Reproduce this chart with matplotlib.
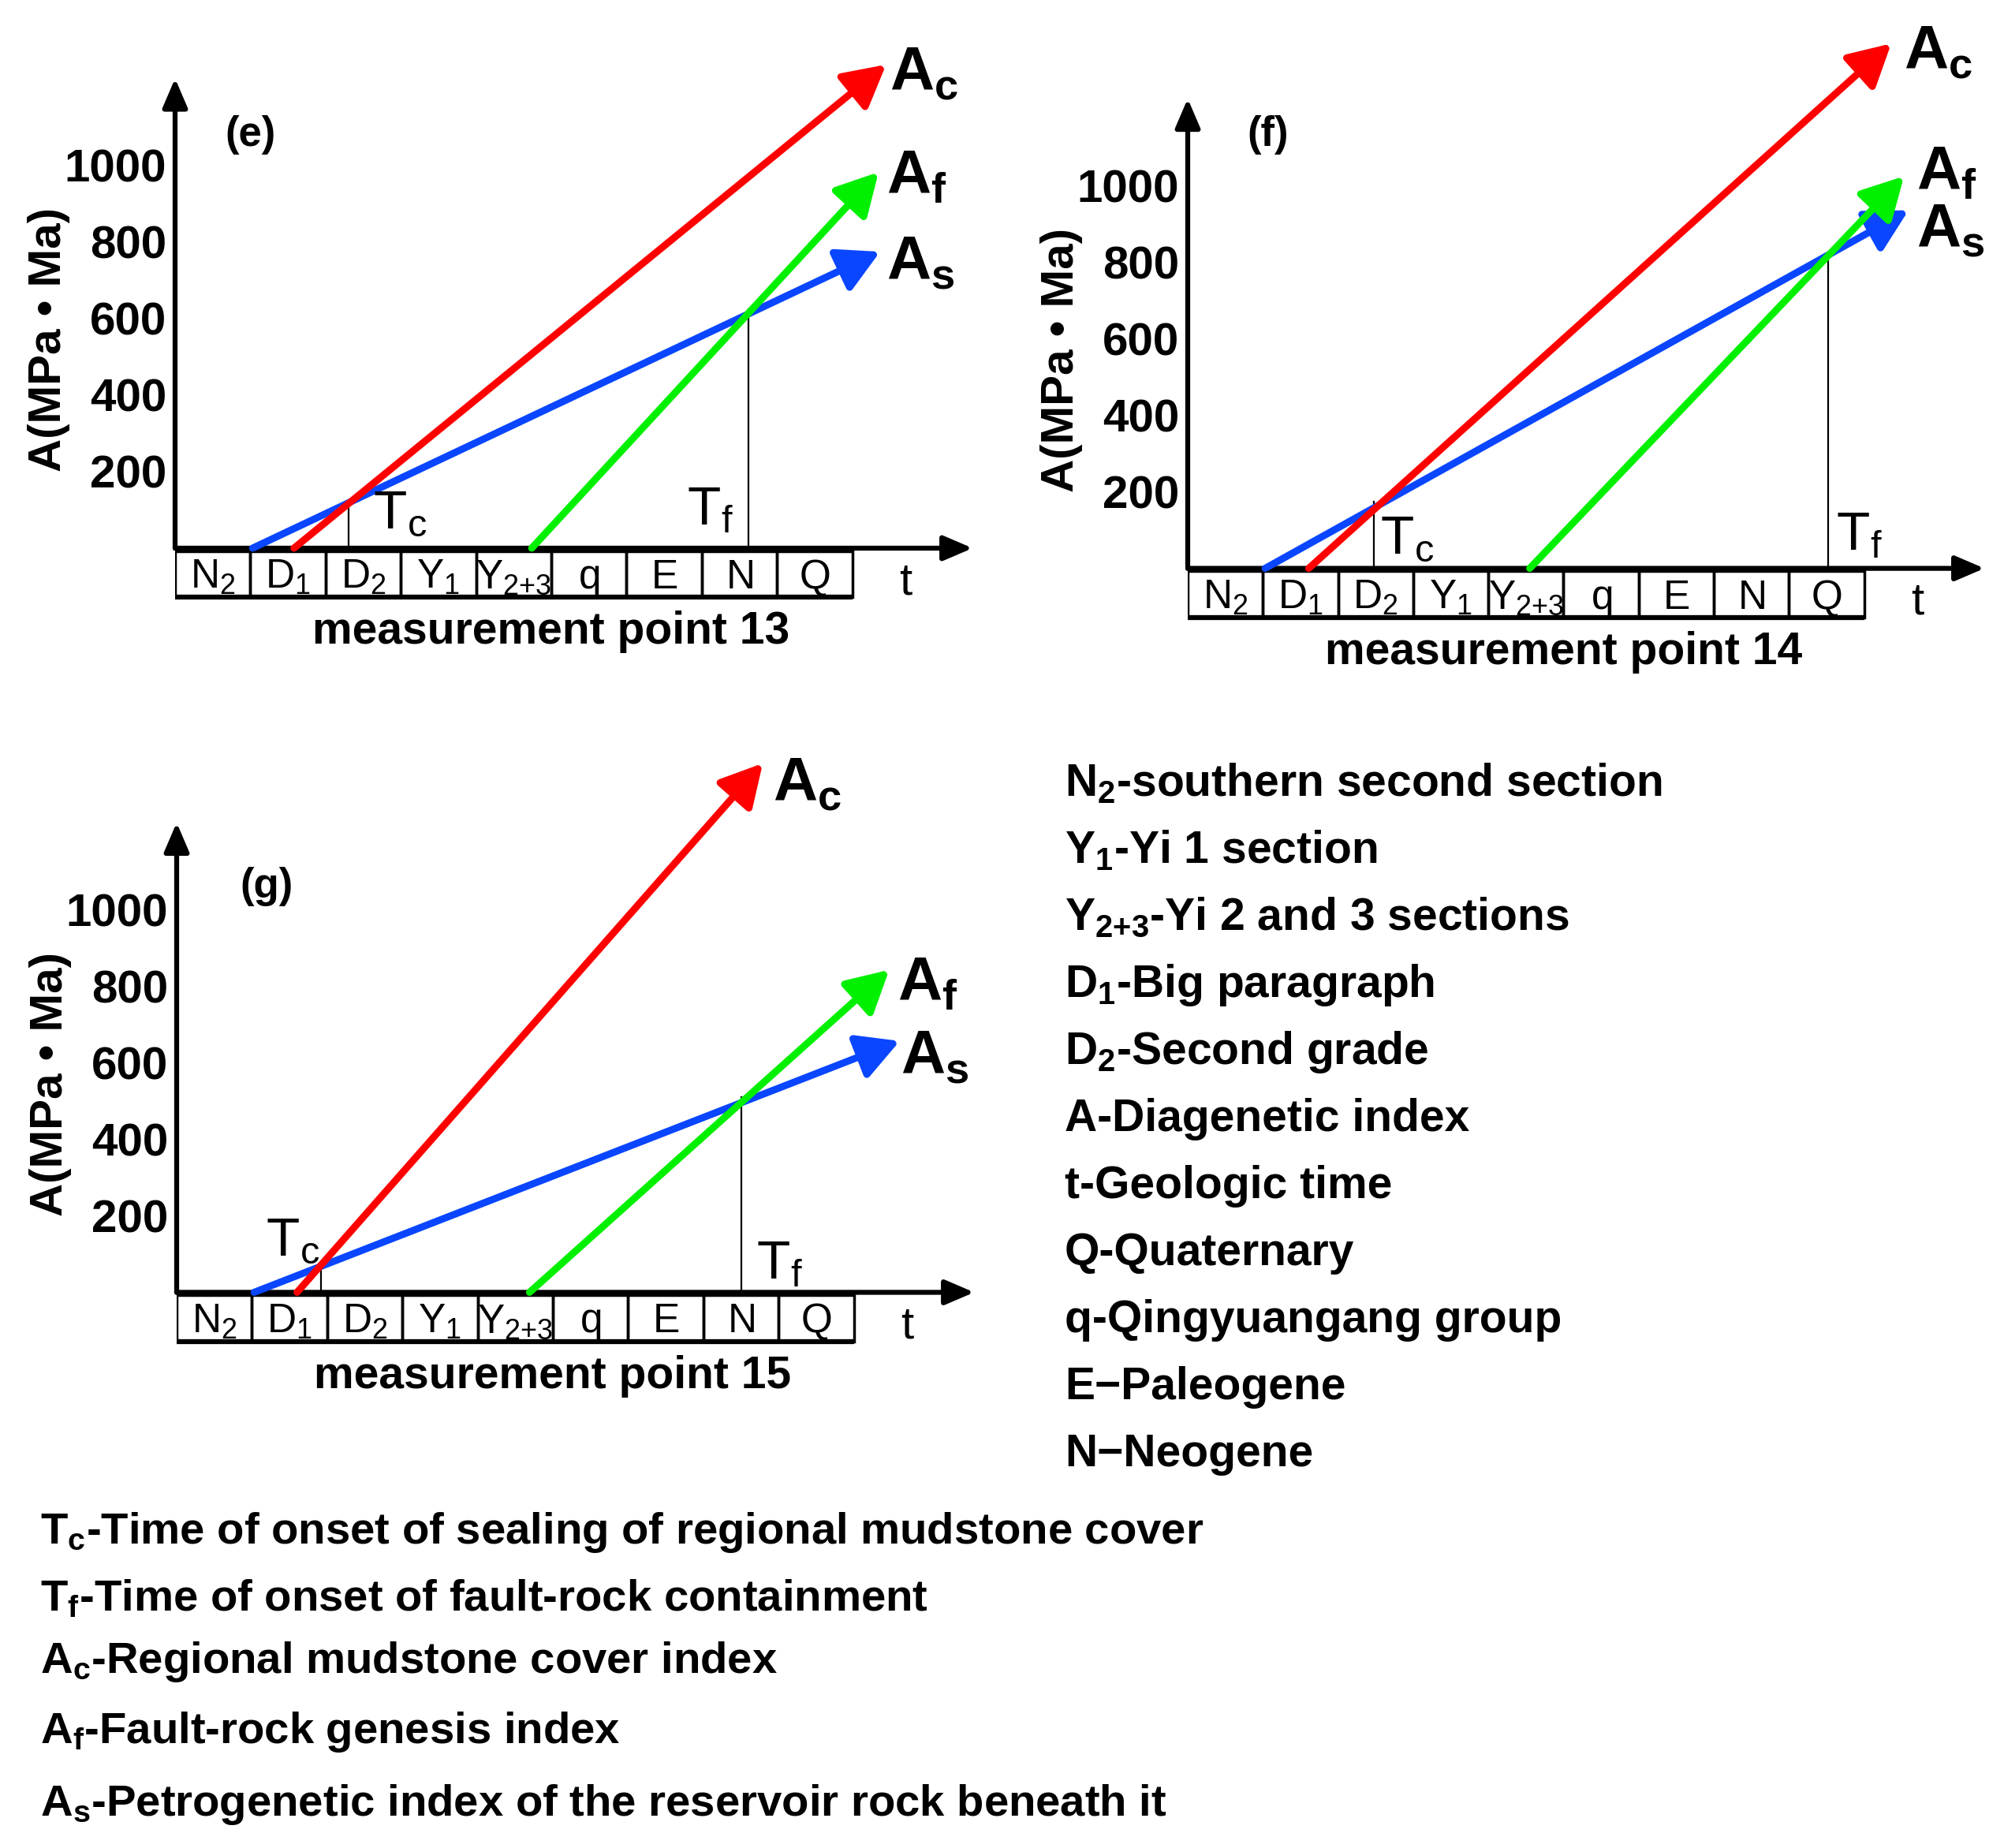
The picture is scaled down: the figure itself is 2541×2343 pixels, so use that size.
import numpy as np
import matplotlib.pyplot as plt
from matplotlib.patches import Rectangle

plt.rcParams['font.family'] = ['Liberation Sans', 'DejaVu Sans']
plt.rcParams['mathtext.default'] = 'regular'

# time axis units
periods = ['N_2', 'D_1', 'D_2', 'Y_1', 'Y_{2{+}3}', 'q', 'E', 'N', 'Q']
yticks = [200, 400, 600, 800, 1000]

panel_tags = ['(e)', '(f)', '(g)']
point_names = ['measurement point 13', 'measurement point 14', 'measurement point 15']

# index lines: start on the time axis, arrow tip (x in period units, y in MPa*Ma)
ac_start = [1.58, 1.61, 1.60]
ac_tip_x = [9.45, 9.36, 7.79]
ac_tip_y = [1264, 1372, 1383]
af_start = [4.74, 4.55, 4.69]
af_tip_x = [9.35, 9.53, 9.47]
af_tip_y = [983, 1025, 843]
as_start = [1.03, 1.03, 1.03]
as_tip_x = [9.37, 9.59, 9.61]
as_tip_y = [775, 936, 657]

# Tc / Tf markers
tc_x = [2.31, 2.48, 1.92]
tc_y = [124, 175, 77]
tf_x = [7.62, 8.52, 7.51]
tf_y = [624, 821, 510]

legend_right = [r'$N_2$-southern second section', r'$Y_1$-Yi 1 section',
                r'$Y_{2{+}3}$-Yi 2 and 3 sections', r'$D_1$-Big paragraph',
                r'$D_2$-Second grade', 'A-Diagenetic index', 't-Geologic time',
                'Q-Quaternary', 'q-Qingyuangang group', 'E\u2212Paleogene',
                'N\u2212Neogene']
legend_bottom = [r'$T_c$-Time of onset of sealing of regional mudstone cover',
                 r'$T_f$-Time of onset of fault-rock containment',
                 r'$A_c$-Regional mudstone cover index',
                 r'$A_f$-Fault-rock genesis index',
                 r'$A_s$-Petrogenetic index of the reservoir rock beneath it']

# ---- layout (pixels of the 2541x2343 image) ----
W, H = 2541, 2343
XMAX, YMIN, YMAX = 10.9, -300, 1460
# origin x, origin y, px per period, px per MPa*Ma
origins = [(222, 695, 95.4, 0.485), (1506, 720.6, 95.3, 0.485), (224, 1638.5, 95.4, 0.485)]
# label anchors per panel
tag_pos = [(1.0, 1080), (1.07, 1134), (1.2, 1060)]
tc_lab = [(2.63, 51), (2.56, 37), (1.18, 95)]
tf_lab = [(6.8, 62), (8.63, 48), (7.7, 36)]
ac_lab = [(9.5, 1197), (9.53, 1305), (7.92, 1286)]
af_lab = [(9.45, 927), (9.7, 990), (9.58, 762)]
as_lab = [(9.45, 702), (9.7, 840), (9.62, 571)]

RED, GREEN, BLUE = '#ff0000', '#00f000', '#0a46ff'

fig = plt.figure(figsize=(W / 100, H / 100), dpi=100)

axis_arrow = dict(arrowstyle='-|>,head_length=0.7,head_width=0.3', color='black',
                  lw=4.5, mutation_scale=32, shrinkA=0, shrinkB=0)


def line_arrow(color):
    return dict(arrowstyle='-|>,head_length=0.7,head_width=0.38', color=color,
                lw=6.5, mutation_scale=46, shrinkA=0, shrinkB=0)


for i in range(3):
    x0, y0, ux, uy = origins[i]
    left = x0 / W
    width = XMAX * ux / W
    bottom = 1 - (y0 - YMIN * uy) / H
    height = (YMAX - YMIN) * uy / H
    ax = fig.add_axes([left, bottom, width, height])
    ax.set_xlim(0, XMAX)
    ax.set_ylim(YMIN, YMAX)
    for s in ax.spines.values():
        s.set_visible(False)
    ax.patch.set_alpha(0)
    ax.set_xticks([])
    ax.set_yticks(yticks)
    ax.set_yticklabels([str(v) for v in yticks], fontsize=42, fontweight='bold')
    ax.tick_params(axis='y', length=0, pad=8)

    # axes
    ax.annotate('', xy=(10.6, 0), xytext=(0, 0), arrowprops=axis_arrow, annotation_clip=False)
    ax.annotate('', xy=(0, 1228), xytext=(0, 0), arrowprops=axis_arrow, annotation_clip=False)

    # period boxes
    for k, p in enumerate(periods):
        ax.add_patch(Rectangle((k, -128), 1, 120, fill=False, lw=2.5, ec='black'))
        ax.text(k + 0.5, -105, f'${p}$', ha='center', va='baseline', fontsize=37)
    ax.plot([0, len(periods)], [-128, -128], color='black', lw=4.5, solid_capstyle='butt')

    # Tc, Tf markers
    ax.plot([tc_x[i], tc_x[i]], [0, tc_y[i]], color='black', lw=1.6, zorder=1)
    ax.plot([tf_x[i], tf_x[i]], [0, tf_y[i]], color='black', lw=1.6, zorder=1)

    # index lines
    ax.annotate('', xy=(as_tip_x[i], as_tip_y[i]), xytext=(as_start[i], 0),
                arrowprops=line_arrow(BLUE), annotation_clip=False)
    ax.annotate('', xy=(ac_tip_x[i], ac_tip_y[i]), xytext=(ac_start[i], 0),
                arrowprops=line_arrow(RED), annotation_clip=False)
    ax.annotate('', xy=(af_tip_x[i], af_tip_y[i]), xytext=(af_start[i], 0),
                arrowprops=line_arrow(GREEN), annotation_clip=False)

    # labels
    ax.text(*tc_lab[i], r'$T_c$', fontsize=50, ha='left', va='baseline')
    ax.text(*tf_lab[i], r'$T_f$', fontsize=50, ha='left', va='baseline')
    ax.text(*ac_lab[i], r'$A_c$', fontsize=56, fontweight='bold', ha='left', va='baseline')
    ax.text(*af_lab[i], r'$A_f$', fontsize=56, fontweight='bold', ha='left', va='baseline')
    ax.text(*as_lab[i], r'$A_s$', fontsize=56, fontweight='bold', ha='left', va='baseline')
    ax.text(*tag_pos[i], panel_tags[i], fontsize=38, fontweight='bold', ha='center', va='center')
    ax.text(9.62, -120, 't', fontsize=42, ha='left', va='baseline')
    ax.text(5.0, -250, point_names[i], fontsize=41, fontweight='bold', ha='center', va='baseline')
    ax.text(-1.68, 545, 'A(MPa \u2022 Ma)', fontsize=42, fontweight='bold',
            rotation=90, ha='center', va='center')

# legends
for k, s in enumerate(legend_right):
    fig.text(1350 / W, 1 - (1009 + 85.0 * k) / H, s, fontsize=41, fontweight='bold',
             ha='left', va='baseline')

bottom_y = [1957, 2042, 2121, 2210, 2302]
for k, s in enumerate(legend_bottom):
    fig.text(51 / W, 1 - bottom_y[k] / H, s, fontsize=40.5, fontweight='bold',
             ha='left', va='baseline')

fig.savefig('out.png', dpi=100)
